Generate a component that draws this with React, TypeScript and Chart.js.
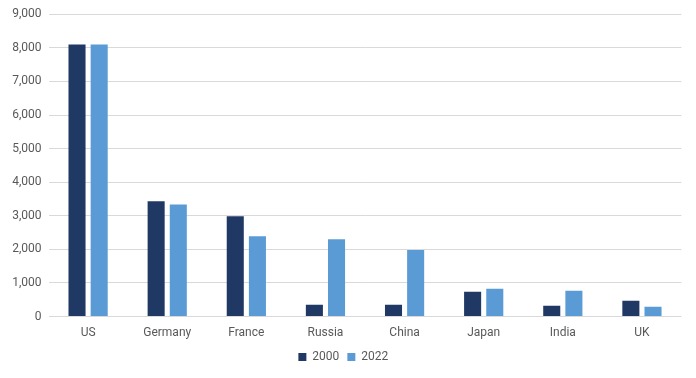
import React, { useEffect, useRef } from "react";
import { Chart, registerables } from "chart.js";

Chart.register(...registerables);

const categories = ["US", "Germany", "France", "Russia", "China", "Japan", "India", "UK"];
const values2000 = [8100, 3430, 2990, 350, 350, 740, 320, 470];
const values2022 = [8100, 3340, 2390, 2300, 1980, 830, 770, 290];
const seriesLabels = ["2000", "2022"];
const yTicksMax = 9000;
const yTickStep = 1000;

export default function App() {
  const ref = useRef<HTMLCanvasElement | null>(null);
  useEffect(() => {
    if (!ref.current) return;
    const chart = new Chart(ref.current, {
      type: "bar",
      data: {
        labels: categories,
        datasets: [
          { label: seriesLabels[0], data: values2000, backgroundColor: "#203864", categoryPercentage: 0.56, barPercentage: 0.77 },
          { label: seriesLabels[1], data: values2022, backgroundColor: "#5b9bd5", categoryPercentage: 0.56, barPercentage: 0.77 },
        ],
      },
      options: {
        responsive: false,
        animation: false,
        layout: { padding: { left: 5.2, right: 14.5, top: 2, bottom: 5 } },
        plugins: {
          legend: {
            position: "bottom",
            labels: {
              boxWidth: 8,
              boxHeight: 8,
              padding: 8,
              color: "#595959",
              font: { family: "Roboto", size: 12 },
            },
          },
          tooltip: { enabled: false },
        },
        scales: {
          x: {
            grid: { display: false, drawTicks: false },
            border: { display: false },
            ticks: { color: "#595959", font: { family: "Roboto", size: 12 }, padding: 9 },
            afterFit: (s: any) => { s.height -= 6; },
          },
          y: {
            min: 0,
            max: yTicksMax,
            ticks: {
              stepSize: yTickStep,
              color: "#595959",
              font: { family: "Roboto", size: 12 },
              padding: 7,
              callback: (v: any) => Number(v).toLocaleString("en-US"),
            },
            grid: { color: "#d9d9d9", drawTicks: false, lineWidth: 1 },
            border: { display: false },
          },
        },
      },
    });
    return () => chart.destroy();
  }, []);
  return (
    <div style={{ position: "fixed", left: 0, top: 0, width: 696, height: 378, background: "#fff" }}>
      <canvas ref={ref} width={696} height={378} />
    </div>
  );
}
